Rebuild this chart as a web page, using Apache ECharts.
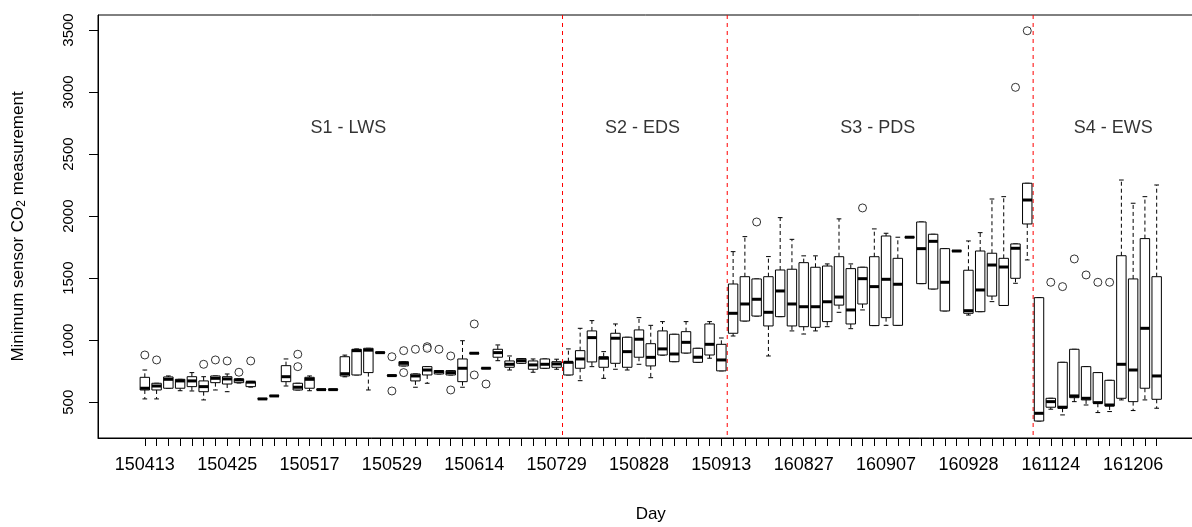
<!DOCTYPE html>
<html>
<head>
<meta charset="utf-8">
<title>Minimum sensor CO2 measurement by day</title>
<script src="https://cdn.jsdelivr.net/npm/echarts@6/dist/echarts.min.js"></script>
<style>
  html, body { margin: 0; padding: 0; background: #fff; }
  #chart { width: 1192px; height: 527px; }
</style>
</head>
<body>
<div id="chart"></div>
<script>
// one box per sampling day (87 days), labels printed every 7th day
const dayLabels = ["150413", "150425", "150517", "150529", "150614", "150729", "150828",
  "150913", "160827", "160907", "160928", "161124", "161206"];
const labelStep = 7;
const dayCount = 87;

// box statistics
const whiskerLow = [527, 527, 613, 593, 591, 519, 599, 585, 655, 622,
  525, 549, 631, 599, 593, 600, 600, 705, 720, 599,
  898, 713, 793, 621, 653, 728, 720, 621, 893, 772,
  835, 760, 814, 742, 774, 766, 720, 674, 787, 693,
  766, 760, 806, 698, 880, 827, 897, 822, 855, 753,
  1034, 1155, 1195, 873, 1190, 1075, 1050, 1075, 1109, 1225,
  1093, 1244, 1118, 1120, 1120, 1828, 1456, 1413, 1236, 1717,
  1203, 1230, 1311, 1280, 1459, 1647, 349, 444, 398, 505,
  478, 417, 425, 519, 433, 519, 452];
const q1 = [599, 599, 613, 613, 626, 585, 658, 647, 658, 626,
  525, 549, 666, 599, 613, 600, 600, 712, 720, 739,
  898, 713, 793, 672, 720, 728, 720, 666, 893, 772,
  863, 782, 814, 766, 774, 782, 720, 774, 825, 782,
  814, 782, 863, 793, 881, 827, 897, 822, 881, 753,
  1056, 1155, 1195, 1115, 1190, 1115, 1109, 1104, 1150, 1283,
  1131, 1292, 1118, 1182, 1120, 1828, 1456, 1413, 1236, 1717,
  1217, 1230, 1356, 1280, 1499, 1937, 349, 460, 452, 537,
  519, 492, 470, 532, 505, 613, 524];
const median = [613, 631, 685, 672, 672, 626, 693, 688, 680, 662,
  527, 551, 706, 621, 685, 602, 602, 730, 916, 920,
  900, 715, 814, 712, 760, 747, 739, 774, 895, 774,
  900, 806, 835, 801, 806, 809, 822, 849, 1021, 855,
  1016, 908, 1008, 862, 930, 889, 983, 863, 967, 841,
  1217, 1292, 1330, 1225, 1397, 1292, 1270, 1270, 1310, 1348,
  1244, 1496, 1432, 1491, 1451, 1830, 1738, 1797, 1467, 1719,
  1238, 1405, 1606, 1590, 1741, 2130, 411, 505, 460, 551,
  532, 497, 478, 806, 760, 1096, 712];
const q3 = [701, 653, 704, 685, 706, 672, 712, 706, 688, 666,
  530, 554, 795, 653, 701, 604, 604, 867, 927, 935,
  903, 718, 827, 728, 787, 755, 755, 849, 898, 777,
  927, 833, 852, 833, 849, 827, 827, 916, 1075, 867,
  1056, 1024, 1083, 972, 1075, 1048, 1069, 935, 1131, 967,
  1453, 1512, 1494, 1512, 1566, 1572, 1625, 1588, 1598, 1673,
  1577, 1588, 1673, 1840, 1660, 1833, 1953, 1854, 1738, 1722,
  1564, 1719, 1701, 1660, 1776, 2265, 1343, 532, 822, 927,
  787, 739, 677, 1681, 1494, 1819, 1512];
const whiskerHigh = [760, 653, 712, 685, 739, 706, 712, 728, 690, 668,
  530, 554, 849, 653, 712, 604, 604, 880, 930, 935,
  903, 718, 827, 728, 787, 755, 755, 996, 898, 777,
  962, 873, 852, 849, 849, 847, 930, 1096, 1158, 908,
  1131, 1024, 1182, 1120, 1150, 1048, 1150, 935, 1150, 1018,
  1714, 1835, 1494, 1674, 1988, 1813, 1680, 1680, 1615, 1978,
  1615, 1588, 1897, 1862, 1830, 1833, 1953, 1854, 1738, 1722,
  1800, 1867, 2138, 2157, 1776, 2265, 1343, 532, 822, 927,
  787, 739, 677, 2291, 2104, 2157, 2251];

// outliers: day index and value
const outlierDay = [0, 1, 5, 6, 7, 8, 9, 13, 13, 21, 21, 22, 22, 23, 24, 24, 25, 26, 26,
  28, 28, 29, 52, 61, 74, 75, 77, 78, 79, 80, 81, 82];
const outlierValue = [881, 841, 806, 841, 833, 742, 833, 887, 787, 867, 591, 916, 739, 927, 948, 935, 927, 873, 599,
  1131, 720, 647, 1953, 2066, 3038, 3494, 1467, 1432, 1655, 1526, 1467, 1467];

// season boundaries and season names
const phaseBreaks = [35.5, 49.5, 75.5];
const phaseNames = ["S1 - LWS", "S2 - EDS", "S3 - PDS", "S4 - EWS"];
const phaseNameDay = [17.3, 42.3, 62.3, 82.3];
const phaseNameValue = 2710;

const yTicks = [500, 1000, 1500, 2000, 2500, 3000, 3500];

const BOX_WIDTH = 0.8;
const font = "Liberation Sans, Arial, sans-serif";

const dayIndex = [];
for (let i = 0; i < dayCount; i++) dayIndex.push(i);
const labelIndex = dayLabels.map((d, k) => k * labelStep);

function renderBox(params, api) {
  const i = api.value(0);
  const x = api.coord([i, 0])[0];
  const yLow = api.coord([i, api.value(1)])[1];
  const yQ1 = api.coord([i, api.value(2)])[1];
  const yMed = api.coord([i, api.value(3)])[1];
  const yQ3 = api.coord([i, api.value(4)])[1];
  const yHigh = api.coord([i, api.value(5)])[1];
  const half = api.size([BOX_WIDTH, 0])[0] / 2;
  const cap = half / 2;
  const solid = { stroke: "#000", lineWidth: 1, fill: null };
  const dashed = { stroke: "#000", lineWidth: 1, lineDash: [4, 3], fill: null };
  return {
    type: "group",
    children: [
      { type: "line", shape: { x1: x, y1: yQ3, x2: x, y2: yHigh }, style: dashed },
      { type: "line", shape: { x1: x, y1: yQ1, x2: x, y2: yLow }, style: dashed },
      { type: "line", shape: { x1: x - cap, y1: yHigh, x2: x + cap, y2: yHigh }, style: solid },
      { type: "line", shape: { x1: x - cap, y1: yLow, x2: x + cap, y2: yLow }, style: solid },
      {
        type: "rect",
        shape: { x: x - half, y: yQ3, width: half * 2, height: yQ1 - yQ3 },
        style: { fill: "#fff", stroke: "#000", lineWidth: 1 },
      },
      { type: "line", shape: { x1: x - half, y1: yMed, x2: x + half, y2: yMed }, style: { stroke: "#000", lineWidth: 3 } },
    ],
  };
}

// vertical dashed red line across the whole plot at a season break
function renderBreak(params, api) {
  const x = api.coord([api.value(0), 0])[0];
  const sys = params.coordSys;
  return {
    type: "line",
    shape: { x1: x, y1: sys.y, x2: x, y2: sys.y + sys.height },
    style: { stroke: "#ff0000", lineWidth: 1, lineDash: [4, 4], fill: null },
  };
}

const chart = echarts.init(document.getElementById("chart"), null, { renderer: "canvas" });
chart.setOption({
  animation: false,
  backgroundColor: "#fff",
  textStyle: { fontFamily: font, color: "#000" },
  grid: {
    left: 98, top: 15, right: -11.5, bottom: 89,
    show: true, borderColor: "#000", borderWidth: 1,
    containLabel: false, outerBoundsMode: "none",
  },
  xAxis: {
    type: "value",
    min: -3.98,
    max: 89.98,
    splitLine: { show: false },
    axisLine: { show: true, onZero: false, lineStyle: { color: "#000" } },
    axisTick: { show: true, customValues: dayIndex, length: 8, lineStyle: { color: "#000" } },
    axisLabel: {
      customValues: labelIndex,
      formatter: (v) => dayLabels[Math.round(v / labelStep)],
      fontSize: 18, margin: 18, color: "#000", fontFamily: font,
    },
    name: "Day",
    nameLocation: "middle",
    nameGap: 68,
    nameTextStyle: { fontSize: 17, color: "#000", fontFamily: font },
  },
  yAxis: {
    type: "value",
    min: 212,
    max: 3621,
    splitLine: { show: false },
    axisLine: { show: true, onZero: false, lineStyle: { color: "#000" } },
    axisTick: { show: true, customValues: yTicks, length: 9, lineStyle: { color: "#000" } },
    axisLabel: {
      customValues: yTicks, rotate: 90, fontSize: 15, margin: 22, color: "#000", fontFamily: font,
      formatter: (v) => String(v),
    },
    name: "{t|Minimum sensor CO}{s|2}{t| measurement}",
    nameLocation: "middle",
    nameRotate: 90,
    nameGap: 70,
    nameTextStyle: {
      fontFamily: font,
      rich: {
        t: { fontSize: 17, color: "#000", fontFamily: font },
        s: { fontSize: 12, color: "#000", fontFamily: font, padding: [8, 0, 0, 0] },
      },
    },
  },
  series: [
    {
      name: "breaks",
      type: "custom",
      renderItem: renderBreak,
      encode: { x: 0 },
      data: phaseBreaks.map((b) => [b]),
      silent: true,
      z: 2,
    },
    {
      name: "boxes",
      type: "custom",
      renderItem: renderBox,
      encode: { x: 0, y: [1, 2, 3, 4, 5] },
      data: dayIndex.map((i) => [i, whiskerLow[i], q1[i], median[i], q3[i], whiskerHigh[i]]),
      z: 3,
    },
    {
      name: "outliers",
      type: "scatter",
      symbol: "circle",
      symbolSize: 8,
      itemStyle: { color: "#fff", borderColor: "#000", borderWidth: 1 },
      data: outlierDay.map((d, k) => [d, outlierValue[k]]),
      z: 4,
    },
    {
      name: "phases",
      type: "scatter",
      symbolSize: 0,
      silent: true,
      data: phaseNames.map((n, k) => ({ value: [phaseNameDay[k], phaseNameValue], name: n })),
      label: {
        show: true, position: "inside", formatter: "{b}",
        fontSize: 18, color: "#000", fontFamily: font,
      },
    },
  ],
});
</script>
</body>
</html>
